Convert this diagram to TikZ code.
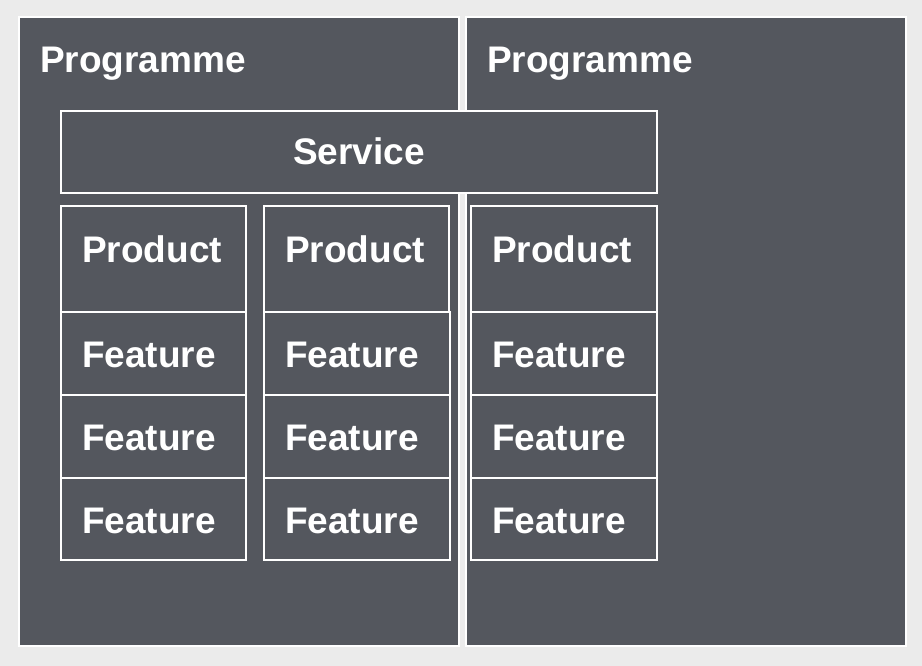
\documentclass[tikz,border=0pt]{standalone}
\usepackage{fontspec}
\setmainfont{Liberation Sans}
\usepackage{tikz}
\usepackage{xcolor}

\definecolor{bggray}{HTML}{EBEBEB}
\definecolor{slate}{HTML}{54575E}

\tikzset{
  panel/.style={fill=slate, draw=white, line width=2pt},
  cell/.style={fill=slate, draw=white, line width=1.5pt},
  label/.style={text=white, inner sep=0pt, font=\fontsize{37}{41}\selectfont\bfseries}
}

\begin{document}
\begin{tikzpicture}[x=1pt,y=-1pt]

\fill[bggray] (0,0) rectangle (922,666);
\useasboundingbox (0,0) rectangle (922,666);

% two programmes
\filldraw[panel] (19,17) rectangle (459,646);
\filldraw[panel] (466,17) rectangle (906,646);

\node[label, anchor=base west] (progA) at (40,73) {Programme};
\node[label, anchor=base west] (progB) at (487,73) {Programme};

% service across both
\filldraw[cell] (61,111) rectangle (657,193);
\node[label, anchor=base] (service) at (359,165) {Service};

% products
\filldraw[cell] (61,206) rectangle (246,312);
\filldraw[cell] (264,206) rectangle (449,312);
\filldraw[cell] (471,206) rectangle (657,312);

\node[label, anchor=base west] (prodA) at (82,262) {Product};
\node[label, anchor=base west] (prodB) at (285,262) {Product};
\node[label, anchor=base west] (prodC) at (492,262) {Product};

% features
\filldraw[cell] (61,312) rectangle (246,395);
\filldraw[cell] (61,395) rectangle (246,478);
\filldraw[cell] (61,478) rectangle (246,560);

\filldraw[cell] (264,312) rectangle (450,395);
\filldraw[cell] (264,395) rectangle (450,478);
\filldraw[cell] (264,478) rectangle (450,560);

\filldraw[cell] (471,312) rectangle (657,395);
\filldraw[cell] (471,395) rectangle (657,478);
\filldraw[cell] (471,478) rectangle (657,560);

\node[label, anchor=base west] (featA1) at (82,367) {Feature};
\node[label, anchor=base west] (featA2) at (82,450) {Feature};
\node[label, anchor=base west] (featA3) at (82,533) {Feature};

\node[label, anchor=base west] (featB1) at (285,367) {Feature};
\node[label, anchor=base west] (featB2) at (285,450) {Feature};
\node[label, anchor=base west] (featB3) at (285,533) {Feature};

\node[label, anchor=base west] (featC1) at (492,367) {Feature};
\node[label, anchor=base west] (featC2) at (492,450) {Feature};
\node[label, anchor=base west] (featC3) at (492,533) {Feature};

\end{tikzpicture}
\end{document}
